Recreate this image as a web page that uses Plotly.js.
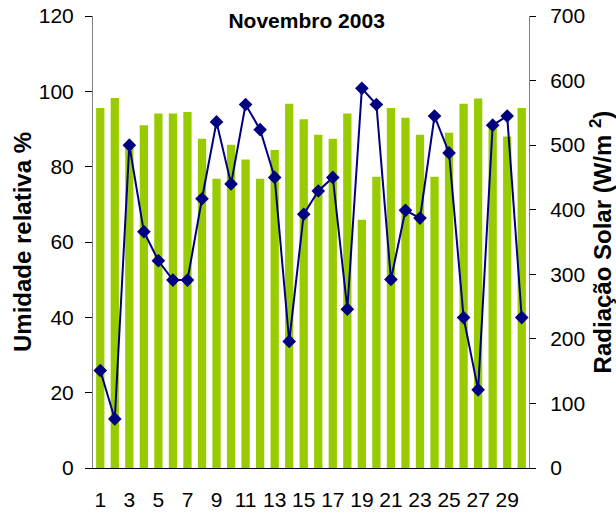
<!DOCTYPE html>
<html>
<head>
<meta charset="utf-8">
<script src="https://cdn.plot.ly/plotly-3.0.1.min.js"></script>
<style>html,body{margin:0;padding:0;background:#fff;}#chart{width:616px;height:519px;}</style>
</head>
<body>
<div id="chart"></div>
<script>
const days = [1,2,3,4,5,6,7,8,9,10,11,12,13,14,15,16,17,18,19,20,21,22,23,24,25,26,27,28,29,30];
const dayLabels = [1,3,5,7,9,11,13,15,17,19,21,23,25,27,29];
const humidity = [95.6,98.2,86,91,94.1,94.1,94.5,87.4,76.8,85.8,81.9,76.8,84.4,96.7,92.6,88.5,87.4,94.1,65.9,77.3,95.6,93,88.5,77.3,89,96.7,98.1,91,88,95.6];
const radiation = [151,76,500,366,321,291,291,417,536,440,563,524,450,196,393,429,450,246,588,563,292,399,387,545,488,233,121,531,545,233];

const FONT = 'Liberation Sans, Arial, sans-serif';

const traces = [
  {
    type: 'bar', x: days, y: humidity, xaxis: 'x', yaxis: 'y',
    marker: {color: '#99CC00', line: {width: 0}},
    hoverinfo: 'x+y', showlegend: false
  },
  {
    type: 'scatter', mode: 'lines+markers', x: days, y: radiation, xaxis: 'x', yaxis: 'y2',
    line: {color: '#000080', width: 2},
    marker: {symbol: 'diamond', size: 10.5, color: '#000080'},
    showlegend: false
  }
];

const layout = {
  width: 616, height: 519,
  margin: {l: 93, r: 87, t: 16, b: 51, pad: 0},
  paper_bgcolor: '#fff', plot_bgcolor: 'rgba(0,0,0,0)',
  font: {family: FONT, color: '#000', size: 21},
  bargap: 0.43,
  title: {text: 'Novembro 2003', font: {family: FONT, size: 21, weight: 'bold', color: '#000'},
          x: 0.49, xanchor: 'center', xref: 'paper', y: 1 - 21/519, yanchor: 'middle', yref: 'container'},
  xaxis: {
    type: 'linear', range: [0.5, 30.5], tickmode: 'array', tickvals: dayLabels, ticktext: dayLabels.map(String),
    ticks: 'outside', ticklen: 13, tickcolor: 'rgba(0,0,0,0)', showgrid: false, zeroline: false,
    showline: true, linecolor: '#000', linewidth: 1, tickfont: {family: FONT, size: 21, color: '#000'}
  },
  xaxis2: {
    overlaying: 'x', matches: 'x', anchor: 'y', side: 'bottom', tickmode: 'linear', tick0: 0.5, dtick: 1,
    ticks: 'outside', ticklen: 7, tickcolor: '#000', tickwidth: 1, showticklabels: false,
    showgrid: false, zeroline: false, showline: false
  },
  xaxis3: {
    overlaying: 'x', matches: 'x', anchor: 'y', side: 'bottom', tickmode: 'linear', tick0: 0.5, dtick: 1,
    ticks: 'inside', ticklen: 8, tickcolor: '#000', tickwidth: 1, showticklabels: false,
    showgrid: false, zeroline: false, showline: false
  },
  yaxis: {
    range: [0, 120], dtick: 20, tick0: 0, ticks: 'outside', ticklen: 7, tickcolor: '#000',
    showgrid: false, zeroline: false, showline: true, linecolor: '#808080', linewidth: 1,
    ticklabelstandoff: 7, tickfont: {family: FONT, size: 21, color: '#000'},
    title: {text: 'Umidade relativa %', font: {family: FONT, size: 24, weight: 'bold', color: '#000'}, standoff: 0}
  },
  yaxis2: {
    overlaying: 'y', side: 'right', anchor: 'x', range: [0, 700], dtick: 100, tick0: 0,
    ticks: 'outside', ticklen: 6, tickcolor: '#000',
    showgrid: false, zeroline: false, showline: true, linecolor: '#808080', linewidth: 1,
    ticklabelstandoff: 10, tickfont: {family: FONT, size: 21, color: '#000'},
    title: {text: 'Radiação Solar (W/m <sup>2</sup>)', font: {family: FONT, size: 24, weight: 'bold', color: '#000'}, standoff: 12}
  },
  yaxis3: {
    overlaying: 'y', matches: 'y2', side: 'right', anchor: 'x', dtick: 100, tick0: 0,
    ticks: 'inside', ticklen: 6, tickcolor: '#000', showticklabels: false,
    showgrid: false, zeroline: false, showline: false
  }
};

Plotly.newPlot('chart', traces, layout, {displayModeBar: false, staticPlot: true});
</script>
</body>
</html>
